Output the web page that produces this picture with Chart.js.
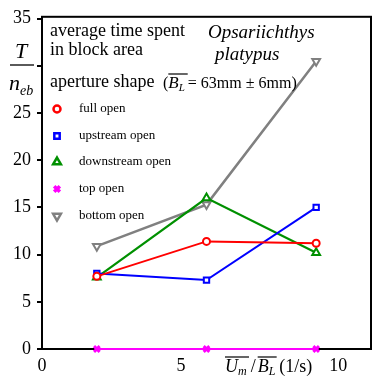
<!DOCTYPE html>
<html><head><meta charset="utf-8">
<script src="https://cdn.jsdelivr.net/npm/chart.js@4"></script>
<style>html,body{margin:0;padding:0;background:#fff}#wrap{width:378px;height:376px}</style>
</head><body><div id="wrap"><canvas id="c" width="378" height="376"></canvas></div>
<script>
const xValues = [2, 6, 10];
const fullOpen = [7.7, 11.4, 11.2];
const upstreamOpen = [8.0, 7.3, 15.0];
const downstreamOpen = [7.6, 16.0, 10.2];
const topOpen = [0, 0, 0];
const bottomOpen = [10.9, 15.3, 30.5];
const seriesNames = ['full open', 'upstream open', 'downstream open', 'top open', 'bottom open'];
const xTickValues = [0, 5, 10];
const yTickValues = [0, 5, 10, 15, 20, 25, 30, 35];

const SERIF = '"Liberation Serif", "Times New Roman", serif';
const styles = [
  {color: '#ff0000', pointStyle: 'circle', rotation: 0, radius: 3.5, bw: 2, lw: 2},
  {color: '#0000ff', pointStyle: 'rect', rotation: 0, radius: 3.8, bw: 2, lw: 2},
  {color: '#009000', pointStyle: 'triangle', rotation: 0, radius: 4.5, bw: 2, lw: 2.2},
  {color: '#ff00ff', pointStyle: 'crossRot', rotation: 0, radius: 4, bw: 3, lw: 2.2},
  {color: '#808080', pointStyle: 'triangle', rotation: 180, radius: 4.5, bw: 2, lw: 2.5}
];
const seriesData = [fullOpen, upstreamOpen, downstreamOpen, topOpen, bottomOpen];

const datasets = seriesData.map((arr, i) => ({
  label: seriesNames[i],
  data: xValues.map((x, j) => ({x: x, y: arr[j]})),
  borderColor: styles[i].color,
  backgroundColor: styles[i].color,
  borderWidth: styles[i].lw,
  pointStyle: styles[i].pointStyle,
  pointRotation: styles[i].rotation,
  pointRadius: styles[i].radius,
  pointBorderWidth: styles[i].bw,
  pointBorderColor: styles[i].color,
  pointBackgroundColor: '#ffffff',
  tension: 0,
  clip: false
}));

function drawRuns(ctx, x, y, runs) {
  ctx.textBaseline = 'alphabetic';
  ctx.textAlign = 'left';
  let cx = x;
  for (const r of runs) {
    ctx.font = (r.italic ? 'italic ' : '') + r.size + 'px ' + SERIF;
    const w = ctx.measureText(r.t).width;
    ctx.fillText(r.t, cx, y + (r.dy || 0));
    if (r.over) {
      ctx.save();
      ctx.lineWidth = 1.2;
      ctx.beginPath();
      ctx.moveTo(cx + (r.ox0 || 0), y + r.over);
      ctx.lineTo(cx + w + (r.ox1 || 0), y + r.over);
      ctx.stroke();
      ctx.restore();
    }
    cx += w + (r.gap || 0);
  }
}

const decor = {
  id: 'decor',
  beforeDatasetsDraw(chart) {
    const ctx = chart.ctx, a = chart.chartArea;
    ctx.save();
    ctx.strokeStyle = '#000';
    ctx.lineWidth = 2;
    ctx.strokeRect(a.left, a.top, a.right - a.left, a.bottom - a.top);
    ctx.restore();
  },
  afterDraw(chart) {
    const ctx = chart.ctx;
    const xs = chart.scales.x;
    ctx.save();
    ctx.fillStyle = '#000';
    ctx.strokeStyle = '#000';
    // x tick labels
    ctx.font = '18px ' + SERIF;
    ctx.textAlign = 'center';
    ctx.textBaseline = 'alphabetic';
    xTickValues.forEach(v => {
      const shift = v === 10 ? 22 : (v === 5 ? 2 : 0);
      ctx.fillText(String(v), xs.getPixelForValue(v) + shift, 371);
    });
    // y axis title: T / n_eb
    ctx.font = 'italic 22px ' + SERIF;
    ctx.textAlign = 'center';
    ctx.fillText('T', 21, 58);
    ctx.lineWidth = 1.3;
    ctx.beginPath(); ctx.moveTo(10, 65); ctx.lineTo(34, 65); ctx.stroke();
    drawRuns(ctx, 9, 90, [
      {t: 'n', italic: true, size: 22},
      {t: 'eb', italic: true, size: 14, dy: 5}
    ]);
    // annotation texts
    ctx.font = '18px ' + SERIF;
    ctx.textAlign = 'left';
    ctx.fillText('average time spent', 50, 36);
    ctx.fillText('in block area', 50, 55);
    ctx.fillText('aperture shape', 50, 87);
    ctx.font = 'italic 19px ' + SERIF;
    ctx.fillText('Opsariichthys', 208, 38);
    ctx.fillText('platypus', 215, 60);
    drawRuns(ctx, 163, 88, [
      {t: '(', size: 16},
      {t: 'B', italic: true, size: 17, over: -14, ox1: 9},
      {t: 'L', italic: true, size: 11, dy: 3, gap: 3},
      {t: '= 63mm \u00b1 6mm)', size: 16}
    ]);
    // x axis title
    drawRuns(ctx, 225, 372, [
      {t: 'U', italic: true, size: 18, over: -15, ox1: 11},
      {t: 'm', italic: true, size: 12, dy: 3, gap: 4},
      {t: '/', size: 18, gap: 2},
      {t: 'B', italic: true, size: 18, over: -15, ox1: 8},
      {t: 'L', italic: true, size: 12, dy: 3, gap: 4},
      {t: '(1/s)', size: 18}
    ]);
    // legend
    const rows = [109, 136, 162, 189, 216];
    chart.data.datasets.forEach((ds, i) => {
      const s = styles[i];
      ctx.save();
      ctx.strokeStyle = s.color;
      ctx.fillStyle = '#ffffff';
      ctx.lineWidth = s.bw + 0.5;
      Chart.helpers.drawPoint(ctx, {pointStyle: s.pointStyle, rotation: s.rotation, radius: s.radius, borderWidth: s.bw + 0.5}, 57, rows[i]);
      ctx.restore();
      ctx.fillStyle = '#000';
      ctx.font = '13px ' + SERIF;
      ctx.textAlign = 'left';
      ctx.textBaseline = 'middle';
      ctx.fillText(ds.label, 79, rows[i]);
    });
    ctx.restore();
  }
};

new Chart(document.getElementById('c'), {
  type: 'line',
  data: {datasets: datasets},
  options: {
    responsive: false,
    animation: false,
    devicePixelRatio: 1,
    layout: {padding: {top: 15, right: 7, left: 0, bottom: 0}},
    plugins: {legend: {display: false}, tooltip: {enabled: false}},
    scales: {
      x: {
        type: 'linear', min: 0, max: 12,
        grid: {display: false},
        border: {display: false},
        ticks: {display: false},
        afterFit(s) { s.height = 27; }
      },
      y: {
        type: 'linear', min: 0, max: 35.2,
        afterBuildTicks(s) { s.ticks = yTickValues.map(v => ({value: v})); },
        grid: {display: true, drawOnChartArea: false, drawTicks: true, tickLength: 5, color: '#000', lineWidth: 2},
        border: {display: true, color: '#000', width: 2},
        ticks: {
          padding: 6,
          color: '#000',
          font: {family: SERIF, size: 18},
          callback: v => (v === 30 ? '' : String(v))
        },
        afterFit(s) { s.width = 42; }
      }
    }
  },
  plugins: [decor]
});
</script>
</body></html>
